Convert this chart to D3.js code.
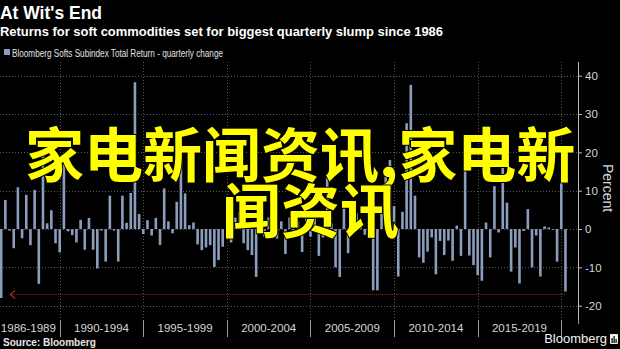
<!DOCTYPE html>
<html>
<head>
<meta charset="utf-8">
<script src="https://cdn.jsdelivr.net/npm/d3@7"></script>
<style>
  html, body { margin: 0; padding: 0; background: #000; }
  svg { display: block; }
</style>
</head>
<body>
<svg id="chart" width="620" height="349"></svg>
<script>
// Bloomberg Softs Subindex Total Return, quarterly change (%), one value per quarter
// starting with the quarter ending June 1986 and ending with the quarter ending March 2020.
const firstQuarterEnd = 1986.5;
const quarterlyChange = [
  -18.0, 7.6, -0.4, -5.0, 10.9, -2.4, 8.9, -4.2, 10.2, -14.3,
  19.6, 1.5, 4.9, -3.7, -6.1, 17.1, -0.6, -1.6, -3.5, 2.4,
  -5.4, 2.9, -5.4, -10.3, -0.4, -8.5, 8.7, -0.4, -8.5, 8.7,
  1.6, 9.4, 38.3, 3.9, -1.3, 2.3, -1.7, 2.9, -4.2, 10.6,
  2.0, -1.1, 7.1, 18.9, 9.3, 1.0, 1.7, -4.0, -5.5, -4.8,
  -4.2, -9.9, -8.1, -4.6, 2.3, -3.5, 3.0, 4.5, -3.7, -5.5,
  -6.8, -12.5, 5.5, -2.0, 3.0, 1.3, -2.5, 2.0, -6.5, 3.0,
  -1.0, 2.0, -6.0, 4.0, -2.0, 3.0, -7.0, -2.2, 13.3, 1.5,
  -10.0, -12.5, 5.7, -6.3, -0.8, 4.1, 2.0, -1.5, 3.0, -16.0,
  -16.0, 6.0, 13.6, 18.0, 6.0, -12.4, 4.5, 27.6, 37.6, 8.7,
  -7.4, -8.8, -5.9, -2.2, -11.8, -3.1, -6.8, -3.0, -8.3, 0.9,
  -7.0, 20.6, -6.9, -9.4, -12.0, -13.5, 1.7, -7.4, 11.2, -0.9,
  20.6, 6.9, -11.1, -4.8, -14.2, -0.5, 5.2, -10.0, -1.7, -12.4,
  0.7, 0.4, -0.2, -8.5, 14.1, -16.3
];
const periodStarts = [1986, 1990, 1995, 2000, 2005, 2010, 2015];
const periodLabels = ["1986-1989", "1990-1994", "1995-1999", "2000-2004", "2005-2009", "2010-2014", "2015-2019"];
const gridYears = [1990, 1995, 2000, 2005, 2010, 2015, 2020];
const yTicks = [-20, -10, 0, 10, 20, 30, 40];
const slumpLevel = -17;

const titleText = "At Wit's End";
const subtitleText = "Returns for soft commodities set for biggest quarterly slump since 1986";
const legendText = "Bloomberg Softs Subindex Total Return - quarterly change";
const overlayLines = ["家电新闻资讯,家电新", "闻资讯"];

const svg = d3.select("#chart");
const W = 620, H = 349;
const plot = { left: -3, right: 578, top: 62, bottom: 320 };
const barColor = "#8c9dbc";
const sans = "'Liberation Sans', Arial, sans-serif";

svg.append("rect").attr("width", W).attr("height", H).attr("fill", "#000");

const x = d3.scaleLinear().domain([1986.25, 2021]).range([plot.left, plot.right]);
const y = d3.scaleLinear().domain([-20, 40]).range([305.7, 75.7]);

// headings
svg.append("text").attr("x", 0).attr("y", 18.5)
  .attr("font-family", sans).attr("font-weight", "bold").attr("font-size", 18)
  .attr("textLength", 102).attr("lengthAdjust", "spacingAndGlyphs")
  .attr("fill", "#fff").text(titleText);
svg.append("text").attr("x", 0).attr("y", 35.5)
  .attr("font-family", sans).attr("font-weight", "bold").attr("font-size", 13.5)
  .attr("textLength", 443).attr("lengthAdjust", "spacingAndGlyphs")
  .attr("fill", "#fff").text(subtitleText);

// legend
svg.append("rect").attr("x", 4).attr("y", 49).attr("width", 6).attr("height", 6).attr("fill", barColor);
svg.append("text").attr("x", 12).attr("y", 57)
  .attr("font-family", sans).attr("font-size", 10)
  .attr("textLength", 211).attr("lengthAdjust", "spacingAndGlyphs")
  .attr("fill", "#e2e2e2").text(legendText);

// gridlines
const grid = svg.append("g").attr("stroke", "#565656").attr("stroke-width", 1).attr("stroke-dasharray", "1,2");
grid.selectAll("line.h").data(yTicks).join("line")
  .attr("x1", 0).attr("x2", plot.right)
  .attr("y1", d => Math.round(y(d)) + 0.5).attr("y2", d => Math.round(y(d)) + 0.5);
grid.selectAll("line.v").data(gridYears).join("line")
  .attr("x1", d => Math.round(x(d)) + 0.5).attr("x2", d => Math.round(x(d)) + 0.5)
  .attr("y1", plot.top).attr("y2", plot.bottom);

// bars, one per quarter, placed at each quarter's end date
const barW = 2.6;
svg.append("g").selectAll("rect").data(quarterlyChange).join("rect")
  .attr("x", (d, i) => x(firstQuarterEnd + i * 0.25) - barW / 2)
  .attr("width", barW)
  .attr("y", d => y(Math.max(0, d)))
  .attr("height", d => Math.abs(y(d) - y(0)))
  .attr("fill", barColor);

// dotted reference back to the 1986 slump
const lastX = x(firstQuarterEnd + (quarterlyChange.length - 1) * 0.25);
const firstX = x(firstQuarterEnd);
const refY = Math.round(y(slumpLevel)) + 0.5;
const ref = svg.append("g").attr("stroke", "#a3262a").attr("fill", "none").attr("stroke-width", 1);
ref.append("line").attr("x1", firstX + 9).attr("x2", lastX)
  .attr("y1", refY).attr("y2", refY).attr("stroke-dasharray", "1,1");
ref.append("path")
  .attr("d", `M${firstX + 14},${refY - 4} L${firstX + 9},${refY} L${firstX + 14},${refY + 4}`)
  .attr("stroke-width", 1.2);

// right value axis
const yAxis = d3.axisRight(y).tickValues(yTicks).tickSize(4).tickPadding(3).tickFormat(d => String(d));
const axisG = svg.append("g").attr("transform", `translate(${plot.right},0)`).call(yAxis);
axisG.select(".domain").remove();
axisG.append("line").attr("x1", 0.5).attr("x2", 0.5).attr("y1", plot.top).attr("y2", plot.bottom)
  .attr("stroke", "#bdbdbd");
axisG.selectAll(".tick line").attr("stroke", "#bdbdbd");
axisG.selectAll(".tick text").attr("fill", "#d6d6d6").attr("font-family", sans).attr("font-size", 11.5);
svg.append("text")
  .attr("transform", `translate(603,188) rotate(90)`)
  .attr("text-anchor", "middle")
  .attr("font-family", sans).attr("font-size", 14).attr("fill", "#d6d6d6")
  .text("Percent");

// period labels along the bottom
const sepG = svg.append("g").attr("stroke", "#9a9a9a");
sepG.selectAll("line").data(gridYears).join("line")
  .attr("x1", d => Math.round(x(d)) + 0.5).attr("x2", d => Math.round(x(d)) + 0.5)
  .attr("y1", plot.bottom).attr("y2", 337);
sepG.append("line").attr("x1", plot.right + 0.5).attr("x2", plot.right + 0.5)
  .attr("y1", plot.bottom).attr("y2", 324);
svg.append("g").selectAll("text").data(periodStarts).join("text")
  .attr("x", (d, i) => {
    const a = Math.max(x(d), plot.left);
    const b = x(d + (i === 0 ? 4 : 5));
    return (a + b) / 2;
  })
  .attr("y", 332)
  .attr("text-anchor", "middle")
  .attr("font-family", sans).attr("font-size", 11.5).attr("fill", "#d6d6d6")
  .text((d, i) => periodLabels[i]);

// footer
svg.append("text").attr("x", 3).attr("y", 346)
  .attr("font-family", sans).attr("font-weight", "bold").attr("font-size", 10)
  .attr("fill", "#e6e6e6").text("Source: Bloomberg");
svg.append("text").attr("x", 607).attr("y", 343).attr("text-anchor", "end")
  .attr("font-family", sans).attr("font-size", 13).attr("fill", "#f2f2f2").text("Bloomberg");
const logo = svg.append("g").attr("transform", "translate(610,334)");
logo.append("rect").attr("width", 8).attr("height", 10).attr("rx", 1).attr("fill", "#f2f2f2");
logo.selectAll("rect.b").data([[1.5, 4, 5], [3.5, 2, 7], [5.5, 5, 4]]).join("rect")
  .attr("x", d => d[0]).attr("y", d => d[1]).attr("width", 1.2).attr("height", d => d[2]).attr("fill", "#000");

// overlaid caption
const cap = svg.append("g")
  .attr("font-family", "'Noto Sans CJK SC', sans-serif")
  .attr("font-weight", "bold")
  .attr("font-size", 59)
  .attr("fill", "#ffff00")
  .attr("stroke", "#000").attr("stroke-width", 2).attr("paint-order", "stroke")
  .attr("stroke-linejoin", "round");
cap.append("text").attr("x", 25).attr("y", 177).text(overlayLines[0]);
cap.append("text").attr("x", 222).attr("y", 233).text(overlayLines[1]);
</script>
</body>
</html>
